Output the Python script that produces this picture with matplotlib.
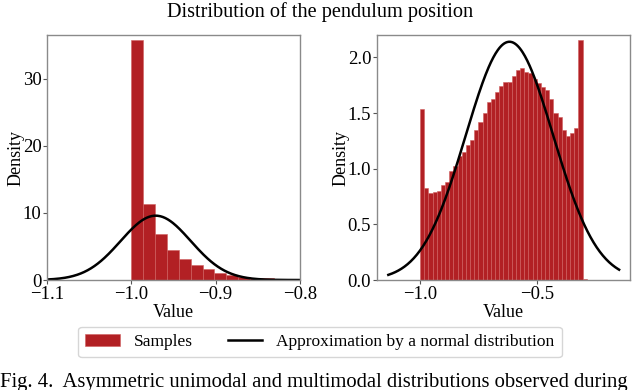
import numpy as np
import matplotlib
matplotlib.use("Agg")
import matplotlib.pyplot as plt

plt.rcParams['font.family'] = ['Liberation Serif', 'DejaVu Serif']

# left panel: histogram density, bins starting at -1.0
left_start = -1.0
left_width = 0.0141
left_heights = [35.7, 11.3, 6.9, 4.5, 3.1, 2.2, 1.6, 1.1, 0.8, 0.5, 0.35, 0.25, 0.2, 0.1]
left_mu, left_sigma = -0.971, 0.0416
left_curve_range = (-1.1, -0.8)

# right panel
right_start = -1.0
right_width = 0.01775
right_heights = [1.54, 0.83, 0.78, 0.79, 0.80, 0.85, 0.88, 0.98, 1.02, 1.11,
                 1.15, 1.21, 1.26, 1.35, 1.42, 1.50, 1.60, 1.63, 1.69, 1.74,
                 1.78, 1.78, 1.83, 1.89, 1.90, 1.87, 1.86, 1.81, 1.77, 1.73,
                 1.71, 1.63, 1.50, 1.46, 1.35, 1.29, 1.32, 1.37, 2.16, 0.01]
right_mu, right_sigma = -0.619, 0.1864
right_curve_range = (-1.135, -0.152)

bar_color = '#b22024'
edge_color = '#d0605f'
spine_color = '#8a8a8a'


def normal_pdf(x, mu, sigma):
    return np.exp(-0.5 * ((x - mu) / sigma) ** 2) / (sigma * np.sqrt(2 * np.pi))


fig = plt.figure(figsize=(6.4, 3.9), dpi=100)
ax1 = fig.add_axes([0.0734, 0.282, 0.395, 0.628])
ax2 = fig.add_axes([0.5886, 0.282, 0.396, 0.628])

panels = [
    (ax1, left_start, left_width, left_heights, left_mu, left_sigma, left_curve_range),
    (ax2, right_start, right_width, right_heights, right_mu, right_sigma, right_curve_range),
]

for ax, start, width, heights, mu, sigma, crange in panels:
    edges = start + width * np.arange(len(heights))
    bars = ax.bar(edges, heights, width=width, align='edge', color=bar_color,
                  edgecolor=edge_color, linewidth=0.4, label='Samples')
    xs = np.linspace(crange[0], crange[1], 300)
    line, = ax.plot(xs, normal_pdf(xs, mu, sigma), color='black', lw=1.8,
                    label='Approximation by a normal distribution')
    for s in ax.spines.values():
        s.set_color(spine_color)
        s.set_linewidth(1.0)
    ax.tick_params(direction='out', length=3, width=0.8, color='#555555',
                   labelsize=13.5, pad=1)
    ax.set_xlabel('Value', fontsize=13, labelpad=1)
    ax.set_ylabel('Density', fontsize=13, labelpad=-1)

ax1.set_xlim(-1.1, -0.8)
ax1.set_ylim(0, 36.5)
ax1.set_xticks([-1.1, -1.0, -0.9, -0.8])
ax1.set_yticks([0, 10, 20, 30])

ax2.set_xlim(-1.1845, -0.105)
ax2.set_ylim(0, 2.2)
ax2.set_xticks([-1.0, -0.5])
ax2.set_yticks([0.0, 0.5, 1.0, 1.5, 2.0])
ax2.set_yticklabels(['0.0', '0.5', '1.0', '1.5', '2.0'])

fig.text(0.5, 0.968, 'Distribution of the pendulum position', ha='center',
         va='center', fontsize=14.6)

h1, l1 = ax1.get_legend_handles_labels()
order = [l1.index('Samples'), l1.index('Approximation by a normal distribution')]
leg = fig.legend([h1[i] for i in order], [l1[i] for i in order], loc='center',
                 bbox_to_anchor=(0.5, 0.123), ncol=2, fontsize=12.5, frameon=True,
                 fancybox=True, edgecolor='#cccccc', borderpad=0.4,
                 handletextpad=0.8, columnspacing=2.0)

fig.text(0.0, 0.0077, 'Fig. 4.  Asymmetric unimodal and multimodal distributions observed during',
         ha='left', va='baseline', fontsize=14.9)

fig.savefig('out.png', dpi=100)
